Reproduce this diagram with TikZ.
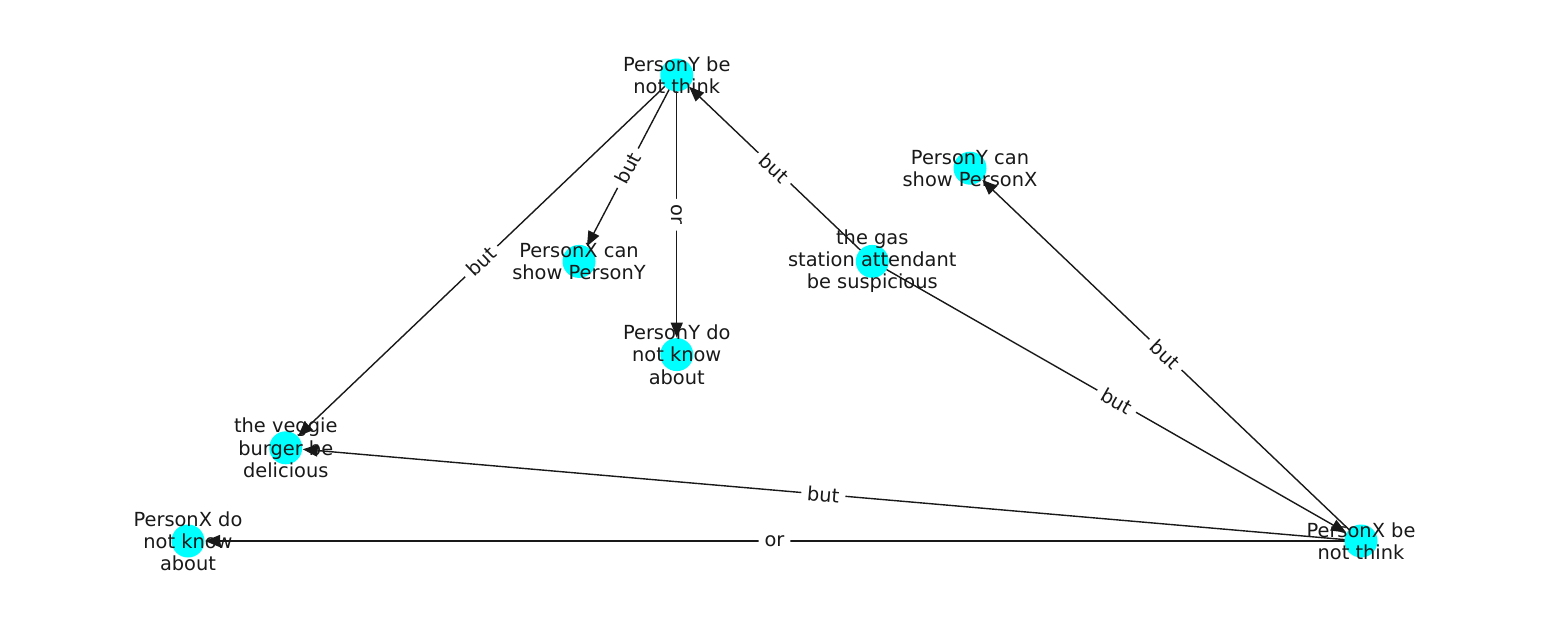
\documentclass[tikz,border=0pt]{standalone}
\usepackage{fontspec}
\setmainfont{DejaVu Sans}
\usetikzlibrary{arrows.meta}
\definecolor{nodecyan}{RGB}{0,255,255}
\begin{document}
\begin{tikzpicture}[x=0.5pt,y=-0.5pt,
  dot/.style={circle,fill=nodecyan,minimum size=16.5pt,inner sep=0pt},
  txt/.style={align=center,font=\fontsize{9.7}{11.1}\selectfont,inner sep=0pt,text=black!90},
  edge/.style={draw=black!90,line width=0.7pt,-{Triangle[length=7.5pt,width=6pt]},shorten >=8.5pt},
  lbl/.style={fill=white,font=\fontsize{9.7}{11.1}\selectfont,inner sep=3pt,sloped,rounded corners=3pt,text=black!90}]
\path[use as bounding box] (0,0) rectangle (1550,616);
% node positions
\coordinate (py)  at (676.75,75);
\coordinate (pyc) at (970,168.2);
\coordinate (pxc) at (579,261.4);
\coordinate (gas) at (872.25,261.4);
\coordinate (pyd) at (676.75,354.6);
\coordinate (veg) at (285.75,447.8);
\coordinate (pxd) at (188,541);
\coordinate (pxb) at (1361,541);
% edges
\draw[edge] (py) -- node[lbl]{but} (veg);
\draw[edge] (py) -- node[lbl]{but} (pxc);
\draw[edge] (py) -- node[lbl]{or} (pyd);
\draw[edge] (gas) -- node[lbl]{but} (py);
\draw[edge] (gas) -- node[lbl]{but} (pxb);
\draw[edge] (pxb) -- node[lbl]{but} (pyc);
\draw[edge] (pxb) -- node[lbl]{but} (veg);
\draw[edge] (pxb) -- node[lbl]{or} (pxd);
% dots
\foreach \n in {py,pyc,pxc,gas,pyd,veg,pxd,pxb} \node[dot] (\n-dot) at (\n) {};
% texts
\node[txt] (py-t)  at (py)  {PersonY be\\not think};
\node[txt] (pyc-t) at (pyc) {PersonY can\\show PersonX};
\node[txt] (pxc-t) at (pxc) {PersonX can\\show PersonY};
\node[txt] (gas-t) at (gas) {the gas\\station attendant\\be suspicious};
\node[txt] (pyd-t) at (pyd) {PersonY do\\not know\\about};
\node[txt] (veg-t) at (veg) {the veggie\\burger be\\delicious};
\node[txt] (pxd-t) at (pxd) {PersonX do\\not know\\about};
\node[txt] (pxb-t) at (pxb) {PersonX be\\not think};
\end{tikzpicture}
\end{document}
